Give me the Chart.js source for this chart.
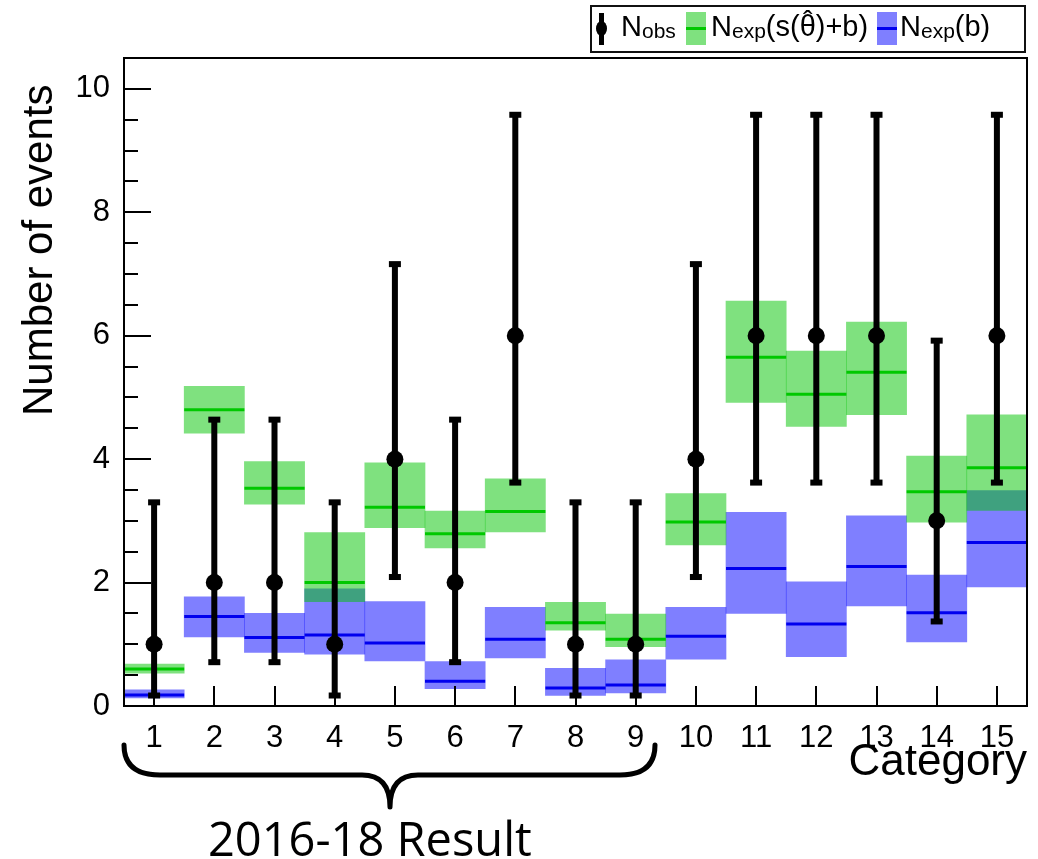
<!DOCTYPE html>
<html>
<head>
<meta charset="utf-8">
<script src="https://cdn.jsdelivr.net/npm/chart.js@4.4.0/dist/chart.umd.min.js"></script>
<style>
  html, body { margin: 0; padding: 0; background: #fff; }
  #wrap { position: relative; width: 1038px; height: 859px; font-family: "Liberation Sans", Arial, sans-serif; color: #000; }
  #chart { position: absolute; left: 0; top: 0; }
  #ytitle { position: absolute; left: 17px; top: 416px; font-size: 42px; line-height: 42px; white-space: nowrap;
            transform: rotate(-90deg); transform-origin: 0 0; }
  #legend { position: absolute; left: 590px; top: 5px; width: 436px; height: 48px; box-sizing: border-box; border: 2px solid #111; }
  .lbl { position: absolute; top: 12px; font-size: 29px; line-height: 29px; white-space: nowrap; }
  .lbl sub { font-size: 21px; line-height: 0; vertical-align: -2px; }
  .hat { position: relative; display: inline-block; }
  .hat::before { content: "\02C6"; position: absolute; left: 0; right: 0; top: -5px; text-align: center; line-height: 29px; }
  .swatch { position: absolute; top: 12px; width: 20px; height: 33px; }
  .swatch::after { content: ""; position: absolute; left: 0; right: 0; top: 15px; height: 3px; }
  .sw-green { background: rgba(0, 196, 0, 0.5); }
  .sw-green::after { background: #00c800; }
  .sw-blue { background: rgba(0, 0, 255, 0.5); }
  .sw-blue::after { background: #0000ee; }
  #obsbar { position: absolute; left: 599px; top: 13px; width: 5px; height: 32px; background: #000; }
  #obsdot { position: absolute; left: 596px; top: 21px; width: 11px; height: 15px; border-radius: 50%; background: #000; }
  #brace { position: absolute; left: 0; top: 0; pointer-events: none; }
  #period { position: absolute; left: 208px; top: 815px; font-family: "Open Sans", sans-serif; font-size: 47px; line-height: 46px; white-space: nowrap; }
</style>
</head>
<body>
<div id="wrap">
  <canvas id="chart" width="1038" height="859"></canvas>
  <div id="ytitle">Number of events</div>
  <div id="legend"></div>
  <div id="obsbar"></div>
  <div id="obsdot"></div>
  <span class="lbl" style="left:621px">N<sub>obs</sub></span>
  <div class="swatch sw-green" style="left:686px"></div>
  <span class="lbl" style="left:711px">N<sub>exp</sub>(s(<span class="hat">θ</span>)+b)</span>
  <div class="swatch sw-blue" style="left:877px"></div>
  <span class="lbl" style="left:900px">N<sub>exp</sub>(b)</span>
  <svg id="brace" width="1038" height="859">
    <path d="M124,745 Q124,775 160,775 L362,775 Q390,775 390,807 Q390,775 418,775 L620,775 Q655,775 655,745"
          fill="none" stroke="#000" stroke-width="5" stroke-linecap="round" stroke-linejoin="round"/>
  </svg>
  <div id="period">2016-18 Result</div>
</div>
<script>
// categories and y ticks
const categories = [1, 2, 3, 4, 5, 6, 7, 8, 9, 10, 11, 12, 13, 14, 15];
const yTicks = [0, 2, 4, 6, 8, 10];

// observed events and their error bar ends
const observed = [1, 2, 2, 1, 4, 2, 6, 1, 1, 4, 6, 6, 6, 3, 6];
const obsLow = [0.17, 0.71, 0.71, 0.17, 2.09, 0.71, 3.62, 0.17, 0.17, 2.09, 3.62, 3.62, 3.62, 1.37, 3.62];
const obsHigh = [3.30, 4.64, 4.64, 3.30, 7.16, 4.64, 9.58, 3.30, 3.30, 7.16, 9.58, 9.58, 9.58, 5.92, 9.58];

// expected s+b (green)
const sbCenter = [0.60, 4.80, 3.53, 2.00, 3.22, 2.79, 3.15, 1.35, 1.08, 2.98, 5.65, 5.05, 5.41, 3.47, 3.86];
const sbLow = [0.53, 4.42, 3.27, 1.69, 2.89, 2.56, 2.82, 1.23, 0.96, 2.61, 4.92, 4.53, 4.72, 2.98, 3.17];
const sbHigh = [0.68, 5.18, 3.96, 2.81, 3.94, 3.16, 3.68, 1.68, 1.49, 3.44, 6.56, 5.75, 6.22, 4.05, 4.72];

// expected b only (blue)
const bCenter = [0.18, 1.45, 1.11, 1.15, 1.02, 0.40, 1.08, 0.29, 0.34, 1.13, 2.23, 1.33, 2.26, 1.51, 2.65];
const bLow = [0.13, 1.12, 0.87, 0.84, 0.73, 0.28, 0.78, 0.17, 0.21, 0.76, 1.50, 0.80, 1.62, 1.04, 1.93];
const bHigh = [0.26, 1.77, 1.50, 1.90, 1.69, 0.72, 1.60, 0.61, 0.75, 1.60, 3.14, 2.01, 3.08, 2.12, 3.49];

const font = 'Liberation Sans';

function halfBin(ctx) {
  const s = ctx.chart.scales.x;
  return Math.abs(s.getPixelForValue(1) - s.getPixelForValue(0)) / 2;
}

// error bars under the observed markers
const errorBars = {
  id: 'errorBars',
  beforeDatasetDraw(chart, args) {
    if (args.index !== 0) return;
    const { ctx, scales: { x, y } } = chart;
    ctx.save();
    ctx.fillStyle = '#000';
    categories.forEach((c, i) => {
      const px = x.getPixelForValue(c);
      const lo = y.getPixelForValue(obsLow[i]);
      const hi = y.getPixelForValue(obsHigh[i]);
      ctx.fillRect(px - 3, hi, 6, lo - hi);
      ctx.fillRect(px - 6, hi - 3, 12, 6);
      ctx.fillRect(px - 6, lo - 3, 12, 6);
    });
    ctx.restore();
  }
};

// ROOT style frame with inward ticks
const frame = {
  id: 'frame',
  afterDatasetsDraw(chart) {
    const { ctx, chartArea: a, scales: { x, y } } = chart;
    ctx.save();
    ctx.strokeStyle = '#000';
    ctx.lineWidth = 2;
    ctx.strokeRect(a.left, a.top, a.right - a.left, a.bottom - a.top);
    ctx.beginPath();
    for (let v = 0; v <= y.max + 1e-6; v += 0.5) {
      const py = Math.round(y.getPixelForValue(v));
      const len = yTicks.includes(v) ? 27 : 14;
      ctx.moveTo(a.left, py);
      ctx.lineTo(a.left + len, py);
    }
    categories.forEach(c => {
      const px = Math.round(x.getPixelForValue(c));
      ctx.moveTo(px, a.bottom);
      ctx.lineTo(px, a.bottom - 20);
    });
    ctx.stroke();
    ctx.restore();
  }
};

new Chart(document.getElementById('chart'), {
  type: 'bar',
  data: {
    datasets: [
      {
        type: 'scatter',
        label: 'Nobs',
        data: categories.map((c, i) => ({ x: c, y: observed[i] })),
        pointRadius: 8.5,
        pointBackgroundColor: '#000',
        pointBorderWidth: 0,
        order: 0
      },
      {
        type: 'scatter',
        label: 'Nexp(b)',
        data: categories.map((c, i) => ({ x: c, y: bCenter[i] })),
        pointStyle: 'line',
        pointRadius: halfBin,
        pointBorderColor: '#0000ee',
        pointBorderWidth: 3,
        order: 1
      },
      {
        type: 'scatter',
        label: 'Nexp(s+b)',
        data: categories.map((c, i) => ({ x: c, y: sbCenter[i] })),
        pointStyle: 'line',
        pointRadius: halfBin,
        pointBorderColor: '#00c800',
        pointBorderWidth: 3,
        order: 2
      },
      {
        label: 'Nexp(s+b) band',
        data: categories.map((c, i) => ({ x: c, y: [sbLow[i], sbHigh[i]] })),
        backgroundColor: 'rgba(0, 196, 0, 0.5)',
        borderWidth: 0,
        grouped: false,
        barPercentage: 1,
        categoryPercentage: 1,
        order: 3
      },
      {
        label: 'Nexp(b) band',
        data: categories.map((c, i) => ({ x: c, y: [bLow[i], bHigh[i]] })),
        backgroundColor: 'rgba(0, 0, 255, 0.5)',
        borderWidth: 0,
        grouped: false,
        barPercentage: 1,
        categoryPercentage: 1,
        order: 4
      }
    ]
  },
  options: {
    responsive: false,
    animation: false,
    layout: { padding: { top: 58, right: 11, left: 0, bottom: 0 } },
    plugins: {
      legend: { display: false },
      tooltip: { enabled: false }
    },
    scales: {
      x: {
        type: 'linear',
        min: 0.5,
        max: 15.5,
        offset: false,
        afterBuildTicks: s => { s.ticks = categories.map(v => ({ value: v })); },
        afterFit: s => { s.height = 153; },
        grid: { display: false, offset: false },
        border: { display: false },
        ticks: {
          autoSkip: false,
          maxRotation: 0,
          padding: 6,
          color: '#000',
          font: { family: font, size: 31 },
          callback: v => String(v)
        },
        title: {
          display: true,
          text: 'Category',
          align: 'end',
          color: '#000',
          font: { family: font, size: 44 },
          padding: { top: 0, bottom: 70 }
        }
      },
      y: {
        type: 'linear',
        min: 0,
        max: 10.5,
        afterBuildTicks: s => { s.ticks = yTicks.map(v => ({ value: v })); },
        afterFit: s => { s.width = 124; },
        grid: { display: false },
        border: { display: false },
        ticks: {
          padding: 6,
          color: '#000',
          font: { family: font, size: 31 }
        }
      }
    }
  },
  plugins: [errorBars, frame]
});
</script>
</body>
</html>
